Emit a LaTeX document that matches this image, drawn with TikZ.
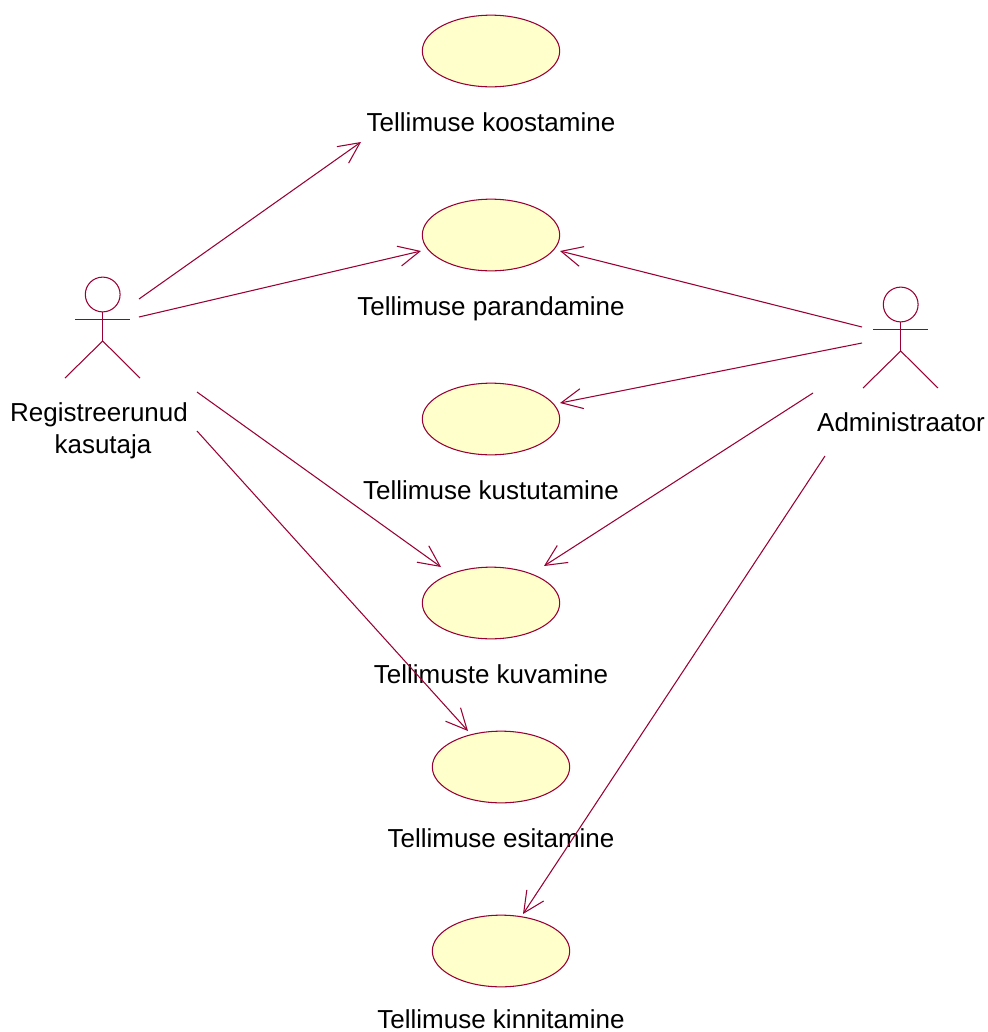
\documentclass[tikz,border=0pt]{standalone}
\usepackage{fontspec}
\setmainfont{Liberation Sans}
\usetikzlibrary{arrows.meta,shapes.geometric}
\definecolor{rosered}{RGB}{153,0,51}
\definecolor{rosefill}{RGB}{255,255,204}
\tikzset{
  usecase/.style={draw=rosered,fill=rosefill,ellipse,line width=0.6pt,minimum width=78.2pt,minimum height=40.8pt,inner sep=0pt},
  head/.style={draw=rosered,circle,line width=0.6pt,minimum size=19.8pt,inner sep=0pt},
  label/.style={font=\fontsize{14.8}{18}\selectfont,text=black,inner sep=0pt,align=center,anchor=base},
  limb/.style={draw=rosered,line width=0.6pt},
  assoc/.style={draw=rosered,line width=0.6pt,-{Straight Barb[length=12pt,width=11.5pt,line width=0.6pt]}}
}
\begin{document}
\begin{tikzpicture}[x=0.02cm,y=0.02cm]
\useasboundingbox (0,0) rectangle (988,-1032);
% use cases
\node[usecase] (koost) at (491,-51) {};
\node[usecase] (parand) at (491,-235) {};
\node[usecase] (kustut) at (491,-419) {};
\node[usecase] (kuvam) at (491,-603) {};
\node[usecase] (esit) at (501,-767) {};
\node[usecase] (kinnit) at (501,-951) {};
\node[label] (lkoost) at (491,-131) {Tellimuse koostamine};
\node[label] (lparand) at (491,-315) {Tellimuse parandamine};
\node[label] (lkustut) at (491,-499) {Tellimuse kustutamine};
\node[label] (lkuvam) at (491,-683) {Tellimuste kuvamine};
\node[label] (lesit) at (501,-847) {Tellimuse esitamine};
\node[label] (lkinnit) at (501,-1028.5) {Tellimuse kinnitamine};
% actors
\node[head] (reg) at (102.7,-294.5) {};
\draw[limb] (reg.south) -- (102.7,-341) coordinate (reghip);
\draw[limb] (75,-319.5) -- (130,-319.5);
\draw[limb] (65,-378) -- (reghip) -- (140,-378);
\node[label] (lreg) at (99,-421) {Registreerunud};
\node[label] (lreg2) at (103,-453) {kasutaja};
\node[head] (adm) at (900.7,-304.5) {};
\draw[limb] (adm.south) -- (900.7,-351) coordinate (admhip);
\draw[limb] (873,-329.5) -- (928,-329.5);
\draw[limb] (863,-388) -- (admhip) -- (938,-388);
\node[label] (ladm) at (901,-431) {Administraator};
% free ends
\coordinate (r1) at (139,-299);
\coordinate (r2) at (139,-317);
\coordinate (r3) at (197,-392);
\coordinate (r4) at (197,-431);
\coordinate (a1) at (862,-327);
\coordinate (a2) at (862,-343);
\coordinate (a3) at (813,-393);
\coordinate (a4) at (825,-456);
\coordinate (tkoost) at (361,-142);
% associations
\draw[assoc] (r1) -- (tkoost);
\draw[assoc] (r2) -- ([shift={(-70,-16)}]parand.center);
\draw[assoc] (r3) -- ([shift={(-50,36)}]kuvam.center);
\draw[assoc] (r4) -- ([shift={(-33,36)}]esit.center);
\draw[assoc] (a1) -- ([shift={(69,-16)}]parand.center);
\draw[assoc] (a2) -- ([shift={(69,16)}]kustut.center);
\draw[assoc] (a3) -- ([shift={(53,37)}]kuvam.center);
\draw[assoc] (a4) -- ([shift={(22,37)}]kinnit.center);
\end{tikzpicture}
\end{document}
